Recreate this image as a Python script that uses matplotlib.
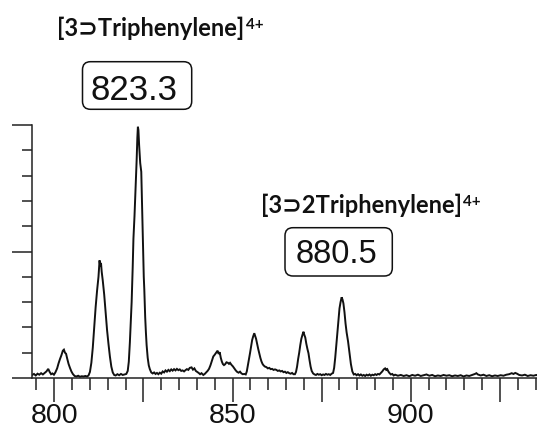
import matplotlib
matplotlib.use("Agg")
import matplotlib.pyplot as plt
from matplotlib.patches import FancyBboxPatch
from matplotlib.transforms import IdentityTransform
from matplotlib.ticker import MultipleLocator

# ---- spectrum trace (m/z, relative intensity %) ----
mz = [
    793.8, 794.3, 794.8, 795.3, 795.8, 796.3, 796.8, 797.3, 797.8, 798.3,
    798.7, 799.1, 799.5, 799.9, 800.3, 800.8, 801.2, 801.6, 802.0, 802.4,
    802.7, 803.0, 803.3, 803.6, 804.0, 804.4, 804.8, 805.2, 805.7, 806.2,
    806.7, 807.2, 807.7, 808.2, 808.7, 809.2, 809.6, 810.0, 810.4, 810.8,
    811.2, 811.6, 812.0, 812.4, 812.7, 812.9, 813.1, 813.3, 813.6, 814.0,
    814.4, 814.8, 815.2, 815.6, 816.0, 816.4, 816.8, 817.2, 817.7, 818.2,
    818.7, 819.2, 819.7, 820.2, 820.6, 820.9, 821.2, 821.5, 821.7, 822.0,
    822.2, 822.5, 822.8, 822.9, 823.1, 823.3, 823.45, 823.6, 823.8, 824.1,
    824.4, 824.6, 824.75, 824.95, 825.1, 825.25, 825.5, 825.7, 825.9, 826.2,
    826.5, 826.8, 827.2, 827.6, 828.0, 828.4, 828.8, 829.2, 829.6, 830.0,
    830.4, 830.8, 831.2, 831.6, 832.0, 832.4, 832.8, 833.2, 833.6, 834.0,
    834.4, 834.8, 835.2, 835.6, 836.0, 836.4, 836.8, 837.2, 837.6, 838.0,
    838.5, 838.9, 839.3, 839.7, 840.1, 840.5, 840.9, 841.3, 841.8, 842.2,
    842.6, 843.0, 843.4, 843.8, 844.2, 844.6, 845.0, 845.4, 845.8, 846.1,
    846.4, 846.7, 847.0, 847.3, 847.6, 847.9, 848.3, 848.7, 849.0, 849.3,
    849.7, 850.1, 850.5, 850.9, 851.3, 851.7, 852.1, 852.5, 852.9, 853.3,
    853.7, 854.0, 854.3, 854.6, 854.9, 855.2, 855.5, 855.8, 856.1, 856.3,
    856.6, 856.9, 857.2, 857.5, 857.8, 858.1, 858.4, 858.7, 859.1, 859.5,
    859.9, 860.3, 860.7, 861.1, 861.5, 861.9, 862.3, 862.7, 863.1, 863.5,
    863.9, 864.3, 864.7, 865.1, 865.5, 865.9, 866.3, 866.7, 867.1, 867.5,
    867.8, 868.1, 868.4, 868.7, 869.0, 869.3, 869.6, 869.9, 870.1, 870.4,
    870.7, 871.0, 871.3, 871.6, 871.9, 872.2, 872.6, 873.0, 873.4, 873.8,
    874.2, 874.6, 875.0, 875.4, 875.8, 876.2, 876.6, 877.0, 877.4, 877.8,
    878.2, 878.5, 878.8, 879.1, 879.4, 879.7, 880.0, 880.3, 880.6, 880.85,
    881.1, 881.4, 881.7, 882.0, 882.4, 882.8, 883.2, 883.6, 884.0, 884.4,
    884.8, 885.2, 885.6, 886.0, 886.4, 886.8, 887.2, 887.6, 888.0, 888.4,
    888.8, 889.2, 889.6, 890.0, 890.4, 890.8, 891.2, 891.6, 892.0, 892.4,
    892.8, 893.1, 893.4, 893.7, 894.0, 894.4, 894.8, 895.2, 895.6, 896.4,
    897.2, 898.0, 898.8, 899.6, 900.4, 901.2, 902.0, 902.8, 903.6, 904.4,
    905.2, 906.0, 906.8, 907.6, 908.4, 909.2, 910.0, 910.8, 911.6, 912.4,
    913.2, 914.0, 914.8, 915.6, 916.4, 917.2, 918.0, 918.4, 918.8, 919.6,
    920.4, 921.2, 922.0, 922.8, 923.6, 924.4, 925.2, 926.0, 926.8, 927.6,
    928.3, 928.8, 929.3, 929.8, 930.4, 931.2, 932.0, 932.8, 933.6, 934.4,
    935.2, 935.6,
]
intensity = [
    1.2, 1.6, 1.0, 1.7, 1.3, 1.9, 1.4, 2.0, 2.6, 3.6,
    2.4, 1.5, 1.8, 1.3, 2.2, 3.8, 5.8, 7.5, 9.0, 10.8,
    11.2, 10.0, 9.6, 7.8, 5.6, 4.0, 2.6, 1.6, 0.8, 0.6,
    0.9, 0.5, 0.7, 0.6, 0.8, 0.6, 1.0, 2.4, 6.0, 12.0,
    20.0, 28.0, 34.5, 40.0, 46.5, 44.0, 45.5, 42.0, 38.5, 33.0,
    26.0, 19.0, 13.5, 8.5, 4.5, 2.2, 1.2, 1.0, 1.5, 1.1,
    1.6, 1.2, 1.4, 1.6, 2.8, 6.4, 14.0, 24.0, 30.0, 44.0,
    55.0, 64.0, 75.0, 77.6, 86.0, 95.0, 99.3, 98.0, 92.0, 85.0,
    81.5, 70.0, 62.0, 48.6, 40.0, 35.0, 24.0, 18.0, 13.0, 8.0,
    5.0, 3.5, 2.2, 1.8, 2.2, 1.6, 2.0, 1.5, 2.1, 1.7,
    2.6, 2.2, 3.0, 2.5, 3.2, 2.7, 3.4, 2.9, 3.5, 3.0,
    3.6, 3.1, 3.4, 2.8, 3.0, 2.6, 3.1, 3.5, 3.2, 4.0,
    4.2, 3.3, 3.8, 2.8, 2.4, 2.0, 1.5, 1.9, 1.2, 1.6,
    2.2, 2.8, 3.6, 5.0, 6.8, 8.5, 9.2, 10.0, 10.8, 9.5,
    10.2, 8.0, 6.5, 5.5, 5.1, 5.4, 6.2, 6.0, 5.6, 6.0,
    5.2, 4.6, 3.8, 3.0, 2.4, 2.1, 2.5, 1.8, 1.5, 1.6,
    1.4, 2.6, 5.0, 7.6, 9.8, 12.5, 15.0, 16.5, 17.7, 16.8,
    15.5, 13.5, 11.5, 9.8, 8.0, 6.6, 5.6, 5.0, 4.5, 4.3,
    3.8, 4.0, 3.5, 3.6, 3.2, 3.4, 3.2, 2.8, 3.0, 2.6,
    2.8, 2.3, 2.5, 2.0, 2.3, 1.9, 1.7, 2.0, 1.5, 1.5,
    2.4, 4.5, 7.5, 10.0, 13.0, 15.5, 17.0, 18.3, 17.2, 16.0,
    13.5, 11.5, 9.8, 7.0, 4.5, 2.8, 1.8, 1.4, 1.2, 1.6,
    1.3, 1.5, 1.1, 1.4, 1.2, 1.6, 1.3, 1.5, 1.2, 1.7,
    2.0, 4.0, 8.0, 13.0, 18.0, 23.0, 27.5, 30.0, 31.9, 31.0,
    29.5, 26.0, 21.5, 18.0, 14.5, 10.0, 5.5, 2.6, 1.4, 1.6,
    1.1, 1.5, 1.0, 1.4, 0.9, 1.2, 0.8, 1.3, 1.0, 1.4,
    0.9, 1.3, 1.1, 1.5, 1.2, 1.6, 1.4, 2.0, 2.6, 3.4,
    3.8, 3.2, 3.5, 2.6, 2.0, 1.4, 1.6, 1.0, 1.3, 0.9,
    1.2, 0.8, 1.1, 0.7, 1.2, 0.9, 1.3, 0.8, 1.1, 1.4,
    0.9, 1.2, 0.7, 1.0, 0.8, 1.2, 0.9, 1.1, 0.7, 1.0,
    0.8, 1.1, 0.6, 1.0, 0.8, 1.2, 1.6, 1.9, 1.4, 1.0,
    1.3, 0.8, 1.1, 0.7, 1.0, 0.8, 1.1, 0.9, 1.3, 1.5,
    1.9, 1.6, 2.0, 1.7, 1.2, 1.0, 1.3, 0.8, 1.1, 0.9,
    1.2, 1.0,
]

# ---- axis ticks ----
x_ticks = [800, 825, 850, 875, 900, 925]
x_tick_labels = ["800", "", "850", "", "900", ""]
y_ticks = [0, 50, 100]

# ---- annotations ----
species = ["[3\u2283Triphenylene]", "[3\u22832Triphenylene]"]
charges = ["4+", "4+"]
peak_values = ["823.3", "880.5"]

W, H = 537, 430
fig = plt.figure(figsize=(W / 100, H / 100), dpi=100)
fig.patch.set_facecolor("white")

ax = fig.add_axes([32 / W, (H - 378) / H, (W - 32) / W, 253 / H])
ax.plot(mz, intensity, color="#111111", lw=1.4, solid_joinstyle="miter")
ax.set_xlim(793.75, 935.4)
ax.set_ylim(0, 100)

for side in ("top", "right"):
    ax.spines[side].set_visible(False)
for side in ("left", "bottom"):
    ax.spines[side].set_linewidth(1.1)
    ax.spines[side].set_color("#222222")

ax.set_xticks(x_ticks)
ax.set_xticklabels(x_tick_labels, fontsize=20.5, family="Liberation Sans")
ax.xaxis.set_minor_locator(MultipleLocator(5))
ax.set_yticks(y_ticks)
ax.set_yticklabels([])
ax.yaxis.set_minor_locator(MultipleLocator(10))
ax.tick_params(axis="x", which="major", direction="out", length=17.3,
               width=1.1, color="#222222", pad=0.5, labelcolor="#111111")
ax.tick_params(axis="x", which="minor", direction="out", length=8.6,
               width=1.1, color="#222222")
ax.tick_params(axis="y", which="major", direction="out", length=14.4,
               width=1.1, color="#222222")
ax.tick_params(axis="y", which="minor", direction="out", length=7.2,
               width=1.1, color="#222222")

# species names with charge superscripts (pixel layout, y measured from top)
title_fam = ["Lato", "DejaVu Sans"]
title_pos = [(57.3, 36.0), (261.0, 213.3)]
renderer = fig.canvas.get_renderer()
for name, chg, (px, py) in zip(species, charges, title_pos):
    t = fig.text(px / W, 1 - py / H, name, fontsize=17, fontweight="bold",
                 family=title_fam, ha="left", va="baseline", color="#111111")
    ext = t.get_window_extent(renderer)
    fig.text((ext.x1 + 1.0) / W, 1 - (py - 7.0) / H, chg, fontsize=11,
             fontweight="bold", family=title_fam, ha="left", va="baseline",
             color="#111111")

# boxed peak values: (box x0, box y0, box x1, box y1, text centre x, baseline y, size)
box_layout = [
    (82.5, 61.7, 191.7, 109.3, 134.2, 100.0, 25),
    (285.0, 227.7, 392.3, 276.0, 336.7, 262.7, 23.5),
]
for val, (x0, y0, x1, y1, tx, ty, fs) in zip(peak_values, box_layout):
    box = FancyBboxPatch((x0, H - y1), x1 - x0, y1 - y0,
                         boxstyle="round,pad=0,rounding_size=8",
                         transform=IdentityTransform(), facecolor="white",
                         edgecolor="#111111", lw=1.1)
    fig.add_artist(box)
    fig.text(tx / W, 1 - ty / H, val, fontsize=fs, family="Liberation Sans",
             ha="center", va="baseline", color="#111111")

fig.savefig("out.png", dpi=100)
